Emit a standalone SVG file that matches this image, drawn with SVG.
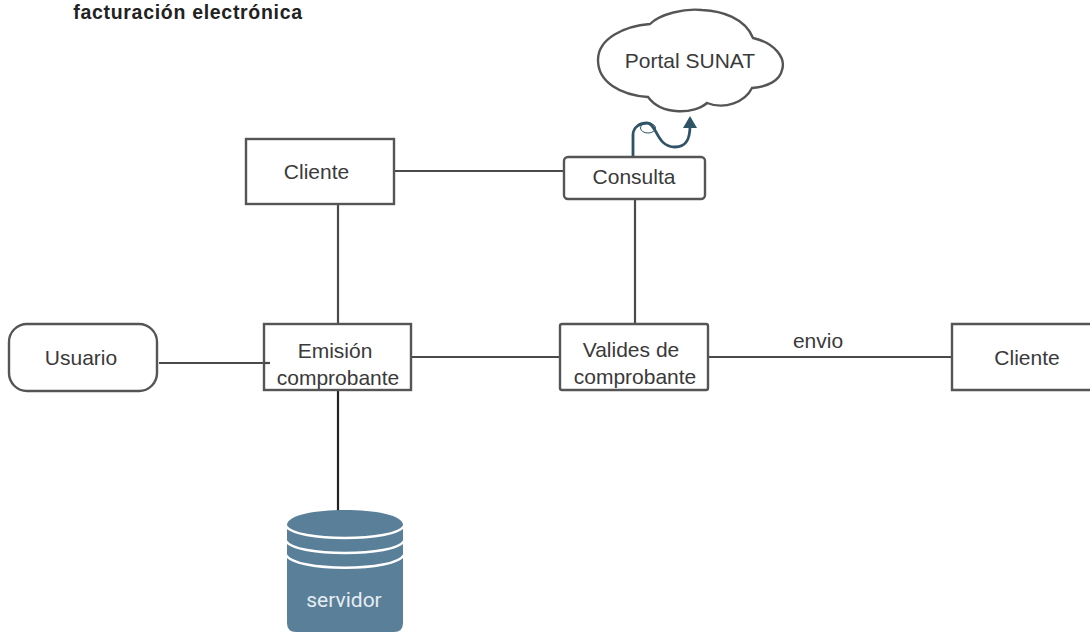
<svg xmlns="http://www.w3.org/2000/svg" width="1090" height="632" viewBox="0 0 1090 632">
<style>
text{font-family:"Liberation Sans",Arial,sans-serif;font-size:21px;fill:#3a3a3a;text-anchor:middle}
.b{fill:#fff;stroke:#555;stroke-width:2.4}
.c{fill:none;stroke:#4a4a4a;stroke-width:2.2}
.w{fill:none;stroke:#fff;stroke-width:2.5}
</style>
<rect width="1090" height="632" fill="#fff"/>
<text x="188" y="19" style="font-size:19.5px;font-weight:bold;fill:#222;letter-spacing:.7px">facturación electrónica</text>
<g id="connectors">
<path class="c" d="M159 363H270"/>
<path class="c" d="M338 204V324"/>
<path class="c" d="M338 391V511" style="stroke:#222"/>
<path class="c" d="M394 171H564"/>
<path class="c" d="M412 357H560"/>
<path class="c" d="M635 199V324"/>
<path class="c" d="M708 357H952"/>
<path d="M633 157V135C633 127 640 123 647 123C657 123 656 147 675 147C687 147 690 138 690 126" fill="none" stroke="#2f5468" stroke-width="2.8"/>
<path d="M690 116L697 128L683 128Z" fill="#2f5468"/>
<ellipse cx="648" cy="128" rx="7.5" ry="5" fill="none" stroke="#2f5468" stroke-width="1"/>
</g>
<g id="envio-label"><text x="818" y="348">envio</text></g>
<g id="portal"><path class="b" d="M598 60C598 38 625 26 650 24C660 14 685 8 702 10C722 11 745 18 753 38C775 43 786 58 782 70C780 80 768 87 752 88C745 102 725 110 707 103C695 114 662 116 648 97C620 95 598 82 598 60Z"/>
<text x="690" y="68">Portal SUNAT</text></g>
<g id="cliente1"><rect class="b" x="246" y="139" width="148" height="65"/><text x="316.5" y="179">Cliente</text></g>
<g id="consulta"><rect class="b" x="564" y="157" width="141" height="42" rx="4"/><text x="634" y="184">Consulta</text></g>
<g id="usuario"><rect class="b" x="9" y="324" width="148" height="67" rx="18"/><text x="81" y="365">Usuario</text></g>
<g id="emision"><rect class="b" x="264" y="324" width="147" height="66"/><path class="c" d="M264 363H270"/><text x="335" y="358">Emisión</text><text x="338" y="385">comprobante</text></g>
<g id="valides"><rect class="b" x="560" y="324" width="148" height="66" rx="2"/><text x="631" y="357">Valides de</text><text x="635" y="384">comprobante</text></g>
<g id="cliente2"><path class="b" d="M1090 324H952V390H1090"/><text x="1027" y="365">Cliente</text></g>
<g id="servidor"><path d="M287 525C287 505 403 505 403 525V623Q403 632 394 632H296Q287 632 287 623Z" fill="#5a7f99"/>
<path class="w" d="M286 526C295 542 395 542 404 526"/><path class="w" d="M286 541C295 557 395 557 404 541"/><path class="w" d="M286 555C295 572 395 572 404 555"/>
<text x="344" y="607" style="fill:#e6edf2;font-size:21px;font-family:Roboto,sans-serif">servidor</text></g>
</svg>
